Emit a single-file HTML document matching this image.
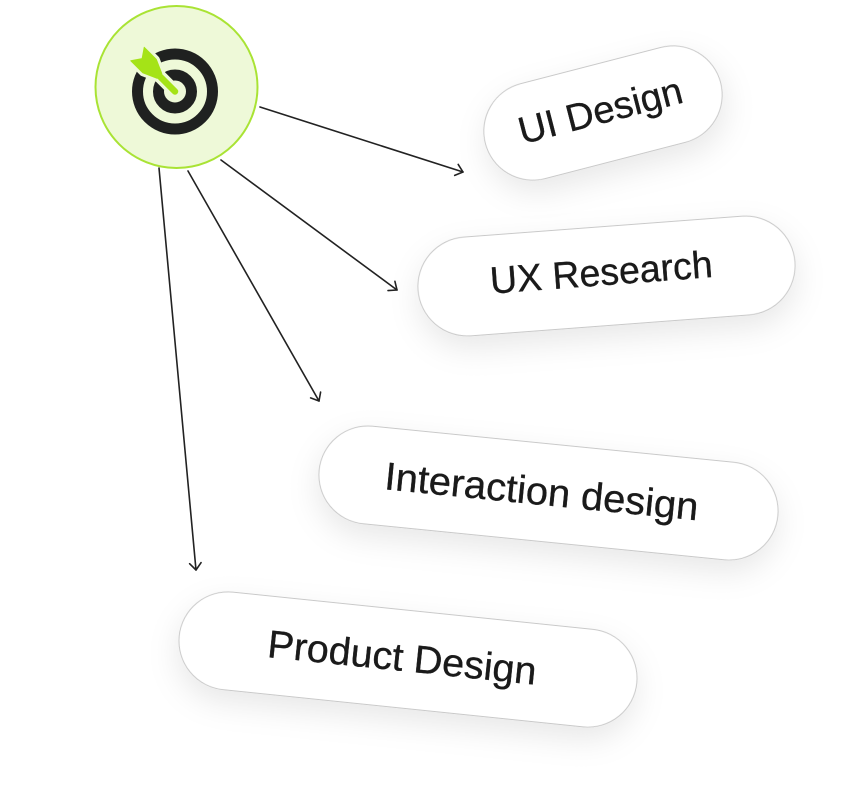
<!DOCTYPE html>
<html>
<head>
<meta charset="utf-8">
<style>
  html, body { margin: 0; padding: 0; background: #ffffff; }
  body { width: 860px; height: 809px; overflow: hidden; }
  svg { display: block; }
  text { font-family: "Liberation Sans", "DejaVu Sans", sans-serif; fill: #1a1a1a; stroke: #1a1a1a; stroke-width: 0.35; }
</style>
</head>
<body>
<svg width="860" height="809" viewBox="0 0 860 809" xmlns="http://www.w3.org/2000/svg">
  <defs>
    <filter id="sh" x="-30%" y="-60%" width="160%" height="240%">
      <feDropShadow dx="0" dy="12" stdDeviation="15" flood-color="#000" flood-opacity="0.09"/>
    </filter>
  </defs>

  <!-- connectors -->
  <g stroke="#222" stroke-width="1.6" fill="none" stroke-linecap="round" stroke-linejoin="round">
    <line x1="260" y1="107" x2="463" y2="172"/>
    <polyline points="458.2,164.4 463,172 454.7,175.4"/>

    <line x1="221" y1="160" x2="397" y2="290"/>
    <polyline points="394.9,281.3 397,290 388,290.6"/>

    <line x1="188" y1="171" x2="319" y2="401"/>
    <polyline points="320.6,392.1 319,401 310.6,397.9"/>

    <line x1="159" y1="168" x2="196" y2="570"/>
    <polyline points="201.1,562.6 196,570 189.6,563.7"/>
  </g>

  <!-- pill 1: UI Design -->
  <g transform="translate(603,113) rotate(-14.5)">
    <rect x="-121.5" y="-49" width="243" height="98" rx="49" ry="49" fill="#fff" stroke="#c9c9c9" stroke-width="1" filter="url(#sh)"/>
    <text x="-2" y="10" font-size="38" text-anchor="middle" textLength="168" lengthAdjust="spacingAndGlyphs">UI Design</text>
  </g>

  <!-- pill 2: UX Research -->
  <g transform="translate(606.5,276) rotate(-4.3)">
    <rect x="-189" y="-49.5" width="378" height="99" rx="49.5" ry="49.5" fill="#fff" stroke="#c9c9c9" stroke-width="1" filter="url(#sh)"/>
    <text x="-5" y="9" font-size="38" text-anchor="middle" textLength="223" lengthAdjust="spacingAndGlyphs">UX Research</text>
  </g>

  <!-- pill 3: Interaction design -->
  <g transform="translate(548.5,493) rotate(5.7)">
    <rect x="-230.5" y="-49" width="461" height="98" rx="49" ry="49" fill="#fff" stroke="#c9c9c9" stroke-width="1" filter="url(#sh)"/>
    <text x="-7" y="12.5" font-size="39" text-anchor="middle" textLength="315" lengthAdjust="spacingAndGlyphs">Interaction design</text>
  </g>

  <!-- pill 4: Product Design -->
  <g transform="translate(408,659.5) rotate(5.9)">
    <rect x="-230" y="-49" width="460" height="98" rx="49" ry="49" fill="#fff" stroke="#c9c9c9" stroke-width="1" filter="url(#sh)"/>
    <text x="-6" y="12" font-size="39" text-anchor="middle" textLength="270" lengthAdjust="spacingAndGlyphs">Product Design</text>
  </g>

  <!-- central circle -->
  <circle cx="176.5" cy="87" r="81" fill="#eef9d8" stroke="#a9e334" stroke-width="2"/>

  <!-- target icon -->
  <g>
    <circle cx="175" cy="91.5" r="37.5" fill="none" stroke="#1f2120" stroke-width="11"/>
    <circle cx="175" cy="91.5" r="16.5" fill="none" stroke="#1f2120" stroke-width="11"/>
    <g transform="translate(175,91.5) rotate(45)">
      <!-- gap outlines -->
      <line x1="-26" y1="0" x2="0" y2="0" stroke="#eef9d8" stroke-width="13" stroke-linecap="round"/>
      <polygon points="-53,-9.5 -36,-9.5 -22,-3.3 -22,3.3 -36,9.5 -53,9.5 -46.5,0" fill="#eef9d8" stroke="#eef9d8" stroke-width="7" stroke-linejoin="round"/>
      <!-- arrow -->
      <line x1="-26" y1="0" x2="0" y2="0" stroke="#a5e317" stroke-width="6.5" stroke-linecap="round"/>
      <polygon points="-53,-9.5 -36,-9.5 -22,-3.3 -22,3.3 -36,9.5 -53,9.5 -46.5,0" fill="#a5e317" stroke="#a5e317" stroke-width="1" stroke-linejoin="round"/>
    </g>
  </g>
</svg>
</body>
</html>
